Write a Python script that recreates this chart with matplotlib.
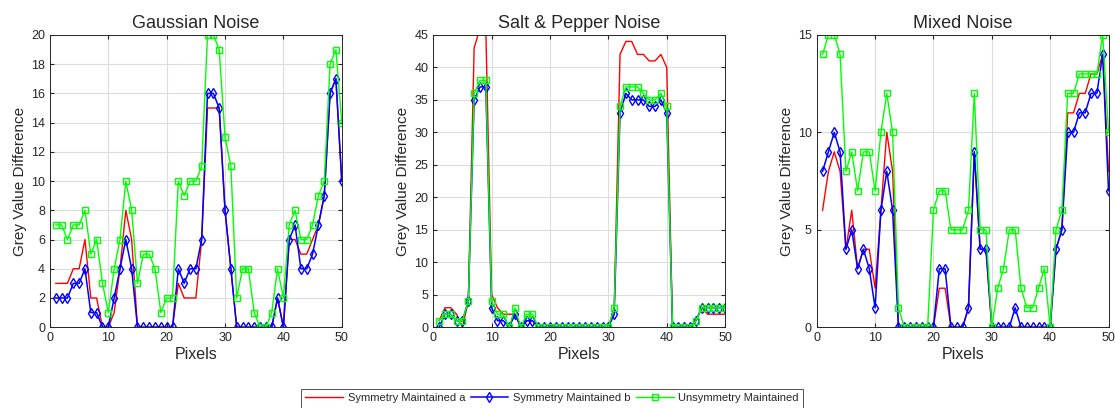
import numpy as np
import matplotlib
matplotlib.use('Agg')
import matplotlib.pyplot as plt

plt.rcParams['font.family'] = ['Liberation Sans', 'DejaVu Sans']

pixels = np.arange(1, 51)

titles = ['Gaussian Noise', 'Salt & Pepper Noise', 'Mixed Noise']
series_names = ['Symmetry Maintained a', 'Symmetry Maintained b', 'Unsymmetry Maintained']

# Gaussian Noise
gauss_a = [3, 3, 3, 4, 4, 6, 2, 2, 0, 0, 1, 4, 8, 6, 0, 0, 0, 0, 0, 0,
           0, 3, 2, 2, 2, 6, 15, 15, 15, 8, 4, 0, 0, 0, 0, 0, 0, 0, 2, 0,
           6, 6, 5, 5, 6, 7, 9, 16, 17, 10]
gauss_b = [2, 2, 2, 3, 3, 4, 1, 1, 0, 0, 2, 4, 6, 4, 0, 0, 0, 0, 0, 0,
           0, 4, 3, 4, 4, 6, 16, 16, 15, 8, 4, 0, 0, 0, 0, 0, 0, 0, 2, 0,
           6, 7, 4, 4, 5, 7, 9, 16, 17, 10]
gauss_u = [7, 7, 6, 7, 7, 8, 5, 6, 3, 1, 4, 6, 10, 8, 3, 5, 5, 4, 1, 2,
           2, 10, 9, 10, 10, 11, 20, 20, 19, 13, 11, 2, 4, 4, 1, 0, 0, 1, 4, 2,
           7, 8, 6, 6, 7, 9, 10, 18, 19, 14]

# Salt & Pepper Noise
sp_a = [1, 3, 3, 2, 0, 4, 43, 46, 46, 5, 3, 2, 2, 2, 0, 1, 1, 0, 0, 0,
        0, 0, 0, 0, 0, 0, 0, 0, 0, 0, 3, 42, 44, 44, 42, 42, 41, 41, 42, 40,
        0, 0, 0, 0, 1, 3, 2, 2, 2, 2]
sp_b = [0, 2, 2, 1, 1, 4, 35, 37, 37, 3, 1, 1, 0, 2, 0, 1, 1, 0, 0, 0,
        0, 0, 0, 0, 0, 0, 0, 0, 0, 0, 2, 33, 36, 35, 35, 35, 34, 34, 35, 33,
        0, 0, 0, 0, 1, 3, 3, 3, 3, 3]
sp_u = [1, 2, 2, 1, 1, 4, 36, 38, 38, 4, 2, 2, 0, 3, 0, 2, 2, 0, 0, 0,
        0, 0, 0, 0, 0, 0, 0, 0, 0, 0, 3, 34, 37, 37, 37, 36, 35, 35, 36, 34,
        0, 0, 0, 0, 1, 3, 3, 3, 3, 3]

# Mixed Noise
mix_a = [6, 8, 9, 8, 4, 6, 3, 4, 4, 2, 6, 10, 8, 0, 0, 0, 0, 0, 0, 0,
         2, 2, 0, 0, 0, 1, 9, 4, 4, 0, 0, 0, 0, 0, 0, 0, 0, 0, 0, 0,
         4, 5, 11, 11, 12, 12, 13, 13, 14, 8]
mix_b = [8, 9, 10, 9, 4, 5, 3, 4, 3, 1, 6, 8, 6, 0, 0, 0, 0, 0, 0, 0,
         3, 3, 0, 0, 0, 1, 9, 4, 4, 0, 0, 0, 0, 1, 0, 0, 0, 0, 0, 0,
         4, 5, 10, 10, 11, 11, 12, 12, 14, 7]
mix_u = [14, 15, 15, 14, 8, 9, 7, 9, 9, 7, 10, 12, 10, 1, 0, 0, 0, 0, 0, 6,
         7, 7, 5, 5, 5, 6, 12, 5, 5, 0, 2, 3, 5, 5, 2, 1, 1, 2, 3, 0,
         5, 6, 12, 12, 13, 13, 13, 13, 15, 10]

panels = [(gauss_a, gauss_b, gauss_u), (sp_a, sp_b, sp_u), (mix_a, mix_b, mix_u)]
y_limits = [20, 45, 15]
y_ticks = [np.arange(0, 21, 2), np.arange(0, 46, 5), np.arange(0, 16, 5)]

text_col = '#262626'
fig = plt.figure(figsize=(11.15, 4.08), dpi=100)

lefts = [0.0448, 0.3886, 0.7325]
for i, (a, b, u) in enumerate(panels):
    ax = fig.add_axes([lefts[i], 0.198, 0.2617, 0.7164])
    ax.plot(pixels, a, color='red', lw=1.0, label=series_names[0])
    ax.plot(pixels, b, color='blue', lw=1.1, marker='d', ms=5, mfc='none',
            mew=1.0, label=series_names[1])
    ax.plot(pixels, u, color='#00ff00', lw=1.0, marker='s', ms=4, mfc='none',
            mew=1.0, label=series_names[2])
    ax.set_xlim(0, 50)
    ax.set_ylim(0, y_limits[i])
    ax.set_xticks(np.arange(0, 51, 10))
    ax.set_yticks(y_ticks[i])
    ax.grid(True, color='#dcdcdc', lw=0.8)
    ax.set_axisbelow(True)
    ax.tick_params(direction='in', top=True, right=True, labelsize=9,
                   colors=text_col, length=3)
    for s in ax.spines.values():
        s.set_color(text_col)
        s.set_linewidth(0.7)
    ax.set_title(titles[i], fontsize=13, color=text_col, pad=5)
    ax.set_xlabel('Pixels', fontsize=11.5, color=text_col, labelpad=2)
    ax.set_ylabel('Grey Value Difference', fontsize=11, color=text_col, labelpad=3)
    if i == 0:
        handles, labels = ax.get_legend_handles_labels()

leg = fig.legend(handles, labels, loc='center', bbox_to_anchor=(0.495, 0.024),
                 ncol=3, fontsize=8, frameon=True, fancybox=False,
                 handlelength=3.4, columnspacing=0.5, handletextpad=0.4,
                 borderpad=0.4)
leg.get_frame().set_edgecolor(text_col)
leg.get_frame().set_linewidth(0.7)
for t in leg.get_texts():
    t.set_color(text_col)

plt.savefig('out.png', dpi=100)
plt.close()
